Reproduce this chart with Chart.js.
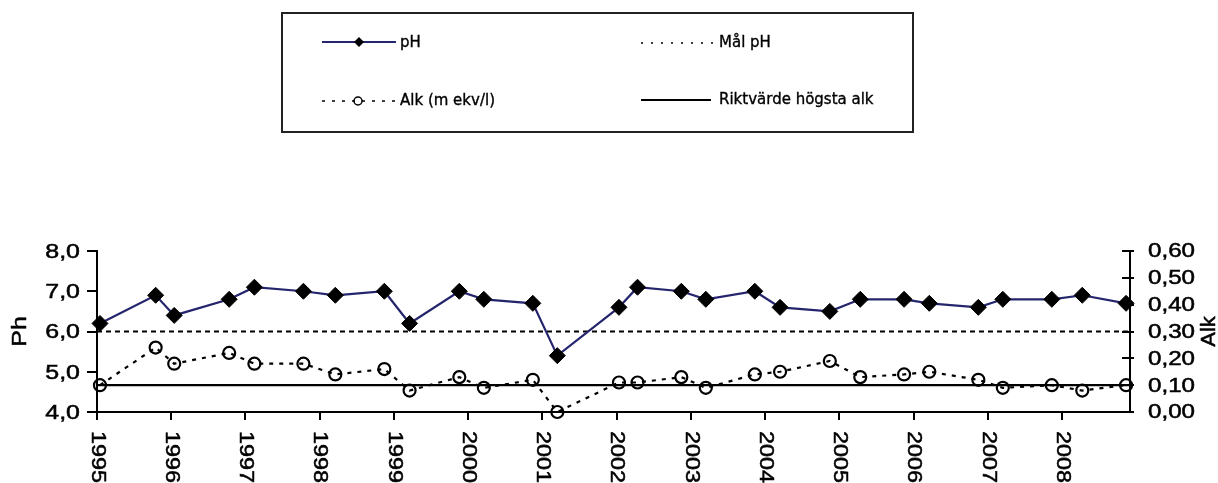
<!DOCTYPE html>
<html><head><meta charset="utf-8">
<script src="https://cdn.jsdelivr.net/npm/chart.js@4.4.0/dist/chart.umd.min.js"></script>
<style>html,body{margin:0;padding:0;background:#fff;}#wrap{position:relative;width:1218px;height:483px;}</style>
</head><body><div id="wrap"><canvas id="c" width="1218" height="483"></canvas></div>
<script>
// ---- data ----
const dates = [1995.04,1995.79,1996.04,1996.78,1997.12,1997.78,1998.21,1998.87,1999.21,1999.88,2000.21,2000.87,2001.20,2002.03,2002.28,2002.87,2003.20,2003.86,2004.20,2004.87,2005.28,2005.87,2006.21,2006.87,2007.20,2007.86,2008.27,2008.86];
const phValues = [6.2,6.9,6.4,6.8,7.1,7.0,6.9,7.0,6.2,7.0,6.8,6.7,5.4,6.6,7.1,7.0,6.8,7.0,6.6,6.5,6.8,6.8,6.7,6.6,6.8,6.8,6.9,6.7];
const alkValues = [0.10,0.24,0.18,0.22,0.18,0.18,0.14,0.16,0.08,0.13,0.09,0.12,0.00,0.11,0.11,0.13,0.09,0.14,0.15,0.19,0.13,0.14,0.15,0.12,0.09,0.10,0.08,0.10];
const phTarget = 6.0;
const alkLimit = 0.10;
const xMin = 1995;
const xMax = 2008.913;
const yearTicks = [1995,1996,1997,1998,1999,2000,2001,2002,2003,2004,2005,2006,2007,2008];
const leftTicks = [4,5,6,7,8];
const rightTicks = [0,0.1,0.2,0.3,0.4,0.5,0.6];
const seriesLabels = ['pH','Mål pH','Alk (m ekv/l)','Riktvärde högsta alk'];
const leftTitle = 'Ph';
const rightTitle = 'Alk';

const NAVY = '#25256e';
const TICK_FONT = '19.5px "Liberation Sans", Arial, sans-serif';
const LEG_FONT = '15px "DejaVu Sans", sans-serif';

function drawStretched(ctx, text, x, y, sx, align, rot, heavy) {
  ctx.save();
  ctx.translate(x, y);
  if (rot) ctx.rotate(rot);
  ctx.scale(sx, 1);
  ctx.textAlign = align;
  ctx.textBaseline = 'middle';
  ctx.fillText(text, 0, 0);
  if (heavy) { ctx.lineWidth = heavy; ctx.strokeStyle = ctx.fillStyle; ctx.strokeText(text, 0, 0); }
  ctx.restore();
}

const textPlugin = {
  id: 'customText',
  afterDraw(chart) {
    const ctx = chart.ctx;
    const xs = chart.scales.x, ys = chart.scales.y, y1 = chart.scales.y1;
    const a = chart.chartArea;
    ctx.save();
    // inner halves of right-axis cross ticks
    ctx.strokeStyle = '#000'; ctx.lineWidth = 2; ctx.setLineDash([]);
    ctx.beginPath();
    rightTicks.forEach(v => { const py = Math.round(y1.getPixelForValue(v)); ctx.moveTo(a.right - 8, py); ctx.lineTo(a.right, py); });
    ctx.stroke();

    ctx.fillStyle = '#000';
    ctx.font = TICK_FONT;
    leftTicks.forEach(v => {
      drawStretched(ctx, v.toFixed(1).replace('.', ','), a.left - 17, ys.getPixelForValue(v) + 1.5, 1.28, 'right', 0, 0.5);
    });
    rightTicks.forEach(v => {
      drawStretched(ctx, v.toFixed(2).replace('.', ','), a.right + 18, y1.getPixelForValue(v) + 1, 1.24, 'left', 0, 0.5);
    });
    yearTicks.forEach(v => {
      drawStretched(ctx, String(v), xs.getPixelForValue(v), a.bottom + 19, 1.2, 'left', Math.PI / 2, 0.5);
    });
    ctx.font = '20px "Liberation Sans", Arial, sans-serif';
    const midY = (a.top + a.bottom) / 2;
    drawStretched(ctx, leftTitle, 20, midY, 1.25, 'center', -Math.PI / 2, 0.5);
    drawStretched(ctx, rightTitle, 1209, midY, 1.1, 'center', -Math.PI / 2, 0.5);

    // ---- legend box ----
    ctx.strokeStyle = '#222'; ctx.lineWidth = 2;
    ctx.strokeRect(282, 13, 631, 119);
    const ds = chart.data.datasets;
    // pH
    ctx.lineWidth = 2; ctx.strokeStyle = ds[0].borderColor; ctx.setLineDash([]);
    ctx.beginPath(); ctx.moveTo(322, 42); ctx.lineTo(396, 42); ctx.stroke();
    ctx.fillStyle = '#000';
    ctx.beginPath(); ctx.moveTo(359, 37); ctx.lineTo(364, 42); ctx.lineTo(359, 47); ctx.lineTo(354, 42); ctx.closePath(); ctx.fill();
    // Mål pH
    ctx.strokeStyle = '#000'; ctx.lineWidth = 1.5; ctx.setLineDash([2, 8]);
    ctx.beginPath(); ctx.moveTo(641, 43); ctx.lineTo(713, 43); ctx.stroke();
    // Alk
    ctx.setLineDash([3, 7]);
    ctx.beginPath(); ctx.moveTo(322, 101); ctx.lineTo(396, 101); ctx.stroke();
    ctx.setLineDash([]); ctx.lineWidth = 1.5;
    ctx.beginPath(); ctx.arc(358, 101, 4, 0, Math.PI * 2); ctx.stroke();
    // Riktvärde
    ctx.lineWidth = 2;
    ctx.beginPath(); ctx.moveTo(641, 100); ctx.lineTo(711, 100); ctx.stroke();
    ctx.font = LEG_FONT; ctx.fillStyle = '#000';
    drawStretched(ctx, ds[0].label, 400, 43, 1, 'left', 0, 0.35);
    drawStretched(ctx, ds[1].label, 719, 43, 1, 'left', 0, 0.35);
    drawStretched(ctx, ds[2].label, 400, 101, 1, 'left', 0, 0.35);
    drawStretched(ctx, ds[3].label, 719, 100, 1, 'left', 0, 0.35);
    ctx.restore();
  }
};

const axisGrid = (len) => ({ drawOnChartArea: false, drawTicks: true, tickLength: len, color: '#000', lineWidth: 2 });
const axisBorder = { display: true, color: '#000', width: 2 };
const hiddenTicks = { color: 'rgba(0,0,0,0)', autoSkip: false, maxRotation: 0, minRotation: 0 };

new Chart(document.getElementById('c').getContext('2d'), {
  type: 'line',
  data: {
    datasets: [
      { label: seriesLabels[0], data: dates.map((d, i) => ({ x: d, y: phValues[i] })), yAxisID: 'y',
        borderColor: NAVY, borderWidth: 2.2, pointStyle: 'rectRot', pointRadius: 8,
        pointBackgroundColor: '#000', pointBorderColor: '#000', pointBorderWidth: 1, order: 1, clip: false },
      { label: seriesLabels[1], data: [{ x: xMin, y: phTarget }, { x: xMax, y: phTarget }], yAxisID: 'y',
        borderColor: '#000', borderWidth: 2.2, borderDash: [5, 4], pointRadius: 0, order: 3, clip: false },
      { label: seriesLabels[2], data: dates.map((d, i) => ({ x: d, y: alkValues[i] })), yAxisID: 'y1',
        borderColor: '#000', borderWidth: 2.2, borderDash: [4, 6], pointStyle: 'circle', pointRadius: 6,
        pointBorderWidth: 2.2, pointBackgroundColor: 'rgba(0,0,0,0)', pointBorderColor: '#000', order: 2, clip: false },
      { label: seriesLabels[3], data: [{ x: xMin, y: alkLimit }, { x: xMax, y: alkLimit }], yAxisID: 'y1',
        borderColor: '#000', borderWidth: 2.2, pointRadius: 0, order: 4, clip: false }
    ]
  },
  options: {
    responsive: false, animation: false, devicePixelRatio: 1,
    layout: { padding: { top: 251, left: 0, right: 0, bottom: 0 } },
    plugins: { legend: { display: false }, tooltip: { enabled: false } },
    elements: { line: { tension: 0 } },
    scales: {
      x: { type: 'linear', position: 'bottom', min: xMin, max: xMax,
        afterBuildTicks: s => { s.ticks = yearTicks.map(v => ({ value: v })); },
        afterFit: s => { s.height = 71; },
        ticks: hiddenTicks, grid: axisGrid(8), border: axisBorder },
      y: { type: 'linear', position: 'left', min: 4, max: 8,
        afterBuildTicks: s => { s.ticks = leftTicks.map(v => ({ value: v })); },
        afterFit: s => { s.width = 97; },
        ticks: hiddenTicks, grid: axisGrid(10), border: axisBorder },
      y1: { type: 'linear', position: 'right', min: 0, max: 0.6,
        afterBuildTicks: s => { s.ticks = rightTicks.map(v => ({ value: v })); },
        afterFit: s => { s.width = 88; },
        ticks: hiddenTicks, grid: axisGrid(4), border: axisBorder }
    }
  },
  plugins: [textPlugin]
});
</script>
</body></html>
